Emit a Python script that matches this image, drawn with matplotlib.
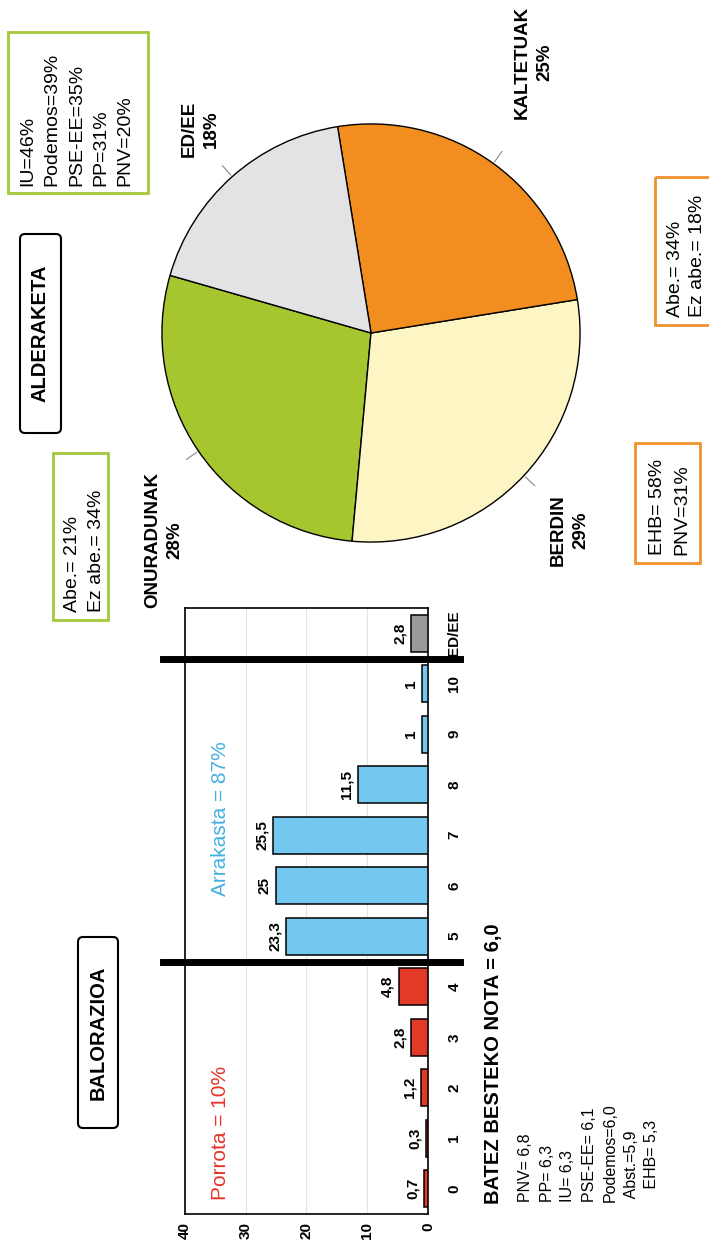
import numpy as np
import matplotlib.pyplot as plt
from matplotlib.patches import Rectangle, FancyBboxPatch

plt.rcParams['font.family'] = ['Liberation Sans', 'DejaVu Sans']

# --- Daten ---
# Balorazioa (notak 0-10 + ED/EE)
notak = ['0', '1', '2', '3', '4', '5', '6', '7', '8', '9', '10', 'ED/EE']
balioak = [0.7, 0.3, 1.2, 2.8, 4.8, 23.3, 25, 25.5, 11.5, 1, 1, 2.8]
x_ticks = [0, 10, 20, 30, 40]

# Alderaketa (tarta)
pie_kat = ['ONURADUNAK', 'BERDIN', 'KALTETUAK', 'ED/EE']
pie_bal = [28, 29, 25, 18]

# Testuak
alderdi_notak = ['PNV= 6,8', 'PP= 6,3', 'IU= 6,3', 'PSE-EE= 6,1',
                 'Podemos=6,0', ' Abst.=5,9', '   EHB= 5,3']
onuradunak_box = ['Abe.= 21%', 'Ez abe.= 34%']
edee_box = ['IU=46%', 'Podemos=39%', 'PSE-EE=35%', 'PP=31%', 'PNV=20%']
berdin_box = ['EHB= 58%', 'PNV=31%']
kaltetuak_box = ['Abe.= 34%', 'Ez abe.= 18%']

# --- Farben / Stil ---
gorria = '#e23a26'
urdina = '#74c8ef'
grisa = '#9a9a9a'
berdea = '#a3c83c'
laranja = '#f0922b'
bar_farben = [gorria] * 5 + [urdina] * 6 + [grisa]
pie_farben = ['#a6c630', '#fdf6c4', '#f18e1f', '#e3e3e5']

W, H = 709, 1253
fig = plt.figure(figsize=(W / 100, H / 100), dpi=100)

# --- Balken (gedreht) ---
ax = fig.add_axes([185 / W, 1 - 1214 / H, 243 / W, 606 / H])
pos = np.arange(len(notak))
ax.barh(pos, balioak, height=0.74, color=bar_farben, edgecolor='black', linewidth=1.1, zorder=3)
for i, v in enumerate(balioak):
    ax.annotate(f"{v:g}".replace('.', ','), xy=(v, i), xytext=(-3, 0),
                textcoords='offset points', rotation=90, ha='right', va='center',
                fontsize=11, fontweight='bold')
ax.set_xlim(40, 0)
ax.set_ylim(-0.5, len(notak) - 0.5)
ax.set_xticks(x_ticks)
ax.set_xticklabels([str(t) for t in x_ticks], rotation=90, fontsize=11, fontweight='bold')
ax.set_yticks(pos)
ax.set_yticklabels(notak, rotation=90, fontsize=11, fontweight='bold', va='center')
ax.yaxis.tick_right()
ax.tick_params(axis='y', length=0, pad=14)
ax.tick_params(axis='x', length=0, pad=6)
ax.grid(axis='x', color='#e2e2e2', linewidth=0.8, zorder=0)
for sp in ax.spines.values():
    sp.set_linewidth(1.2)
# dicke Trennlinien
for yl in [4.5, 10.5]:
    ax.plot([43.6, -5.3], [yl, yl], color='black', linewidth=5, clip_on=False, zorder=5)

# --- Tarta ---
axp = fig.add_axes([71 / W, 1 - 633 / H, 600 / W, 600 / H])
wedges, _ = axp.pie(pie_bal, colors=pie_farben, startangle=164, counterclock=True,
                    wedgeprops=dict(edgecolor='black', linewidth=1.0))
axp.set_xlim(-1.435, 1.435)
axp.set_ylim(-1.435, 1.435)
axp.set_aspect('equal')
axp.axis('off')
lbl_r = [1.40, 1.34, 1.51, 1.27]
lbl_dth = [10.6, -1.8, 4.8, -1.7]
for w, kat, val, r, dth in zip(wedges, pie_kat, pie_bal, lbl_r, lbl_dth):
    mid = np.deg2rad((w.theta1 + w.theta2) / 2)
    axp.plot([1.01 * np.cos(mid), 1.07 * np.cos(mid)], [1.01 * np.sin(mid), 1.07 * np.sin(mid)],
             color='#888888', linewidth=0.8, clip_on=False)
    a = mid + np.deg2rad(dth)
    axp.text(r * np.cos(a), r * np.sin(a), f"{kat}\n{val}%", rotation=90, ha='center', va='center',
             multialignment='center', fontsize=13.5, fontweight='bold', linespacing=1.4)

# --- Overlay fuer Texte und Kaesten (Pixelkoordinaten) ---
ov = fig.add_axes([0, 0, 1, 1])
ov.set_xlim(0, W)
ov.set_ylim(H, 0)
ov.axis('off')


def kasten(x0, y0, x1, y1, farbe, lw=2.0):
    ov.add_patch(Rectangle((x0, y0), x1 - x0, y1 - y0, fill=False, edgecolor=farbe, linewidth=lw, clip_on=False))


def titel_kasten(x0, y0, x1, y1, text):
    ov.add_patch(FancyBboxPatch((x0, y0), x1 - x0, y1 - y0, boxstyle='round,pad=0,rounding_size=5',
                                fill=False, edgecolor='black', linewidth=1.5))
    ov.text((x0 + x1) / 2, (y0 + y1) / 2, text, rotation=90, ha='center', va='center',
            fontsize=14.5, fontweight='bold')


titel_kasten(20, 234, 61, 433, 'ALDERAKETA')
titel_kasten(78, 937, 118, 1128, 'BALORAZIOA')

kasten(8, 32, 148, 193, berdea)
ov.text(76.5, 186, '\n'.join(edee_box), rotation=90, ha='center', va='bottom',
        multialignment='left', fontsize=14, linespacing=1.55)
kasten(53, 453, 108, 620, berdea)
ov.text(84.5, 612, '\n'.join(onuradunak_box), rotation=90, ha='center', va='bottom',
        multialignment='left', fontsize=14, linespacing=1.55)
kasten(655, 177, 720, 325, laranja)
ov.text(686.5, 317, '\n'.join(kaltetuak_box), rotation=90, ha='center', va='bottom',
        multialignment='left', fontsize=14, linespacing=1.45)
kasten(635, 443, 700, 563, laranja)
ov.text(669.5, 555, '\n'.join(berdin_box), rotation=90, ha='center', va='bottom',
        multialignment='left', fontsize=14, linespacing=1.55)

ov.text(220, 1133, 'Porrota = 10%', rotation=90, ha='center', va='center', fontsize=15, color='#e5332a')
ov.text(220, 819, 'Arrakasta = 87%', rotation=90, ha='center', va='center', fontsize=15, color='#45b0e0')

ov.text(494, 1204, 'BATEZ BESTEKO NOTA = 6,0', rotation=90, ha='center', va='bottom',
        fontsize=14.5, fontweight='bold')
ov.text(589, 1202, '\n'.join(alderdi_notak), rotation=90, ha='center', va='bottom',
        multialignment='left', fontsize=11.5, linespacing=1.5)

fig.savefig('out.png', dpi=100, facecolor='white')
